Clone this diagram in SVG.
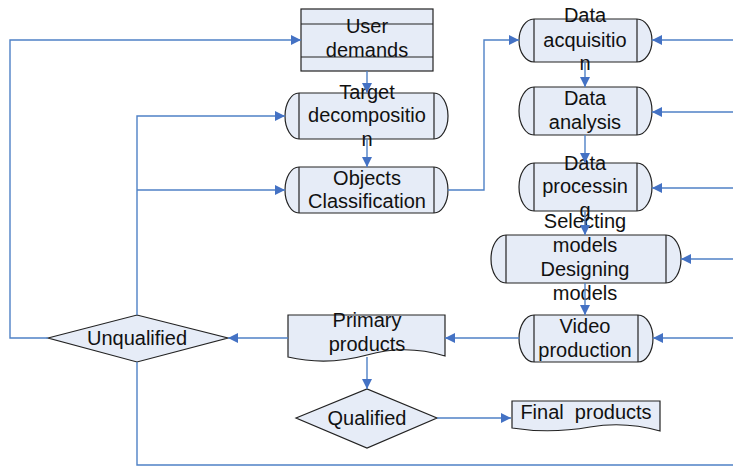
<svg xmlns="http://www.w3.org/2000/svg" width="733" height="466" viewBox="0 0 733 466">
<defs>
<style>
.n{fill:#E6ECF7;stroke:#222;stroke-width:1.2}
.l{fill:none;stroke:#222;stroke-width:1.2}
.c{fill:none;stroke:#4F81C6;stroke-width:1.4}
text{font-family:"Liberation Sans",Arial,sans-serif;font-size:20px;fill:#111;text-anchor:middle}
</style>
<marker id="a" viewBox="0 0 10 10" refX="10" refY="5" markerWidth="10" markerHeight="10" markerUnits="userSpaceOnUse" orient="auto">
<path d="M0,0 L10,5 L0,10 Z" fill="#4472C4"/>
</marker>
</defs>
<rect width="733" height="466" fill="#fff"/>

<g id="n-user">
<rect class="n" x="301" y="9" width="132" height="62"/>
<line class="l" x1="301" y1="24" x2="433" y2="24"/>
<line class="l" x1="301" y1="57" x2="433" y2="57"/>
<text x="367" y="33">User</text>
<text x="367" y="57">demands</text>
</g>

<g id="n-target">
<path class="n" d="M299,93 H434 A14,23 0 0 1 434,139 H299 A14,23 0 0 1 299,93 Z"/>
<line class="l" x1="299" y1="93" x2="299" y2="139"/>
<line class="l" x1="434" y1="93" x2="434" y2="139"/>
<text x="367" y="98.5">Target</text>
<text x="367" y="122">decompositio</text>
<text x="367" y="145.5">n</text>
</g>

<g id="n-objects">
<path class="n" d="M299,167 H434 A14,23 0 0 1 434,213 H299 A14,23 0 0 1 299,167 Z"/>
<line class="l" x1="299" y1="167" x2="299" y2="213"/>
<line class="l" x1="434" y1="167" x2="434" y2="213"/>
<text x="367" y="185">Objects</text>
<text x="367" y="208">Classification</text>
</g>

<g id="n-acq">
<path class="n" d="M534,19 H637 A15,21.5 0 0 1 637,62 H534 A15,21.5 0 0 1 534,19 Z"/>
<line class="l" x1="534" y1="19" x2="534" y2="62"/>
<line class="l" x1="637" y1="19" x2="637" y2="62"/>
<text x="585" y="22">Data</text>
<text x="585" y="46.5">acquisitio</text>
<text x="585" y="70">n</text>
</g>

<g id="n-analysis">
<path class="n" d="M534,87 H637 A15,24 0 0 1 637,135 H534 A15,24 0 0 1 534,87 Z"/>
<line class="l" x1="534" y1="87" x2="534" y2="135"/>
<line class="l" x1="637" y1="87" x2="637" y2="135"/>
<text x="585" y="105">Data</text>
<text x="585" y="128.5">analysis</text>
</g>

<g id="n-processing">
<path class="n" d="M534,163 H637 A15,24 0 0 1 637,211 H534 A15,24 0 0 1 534,163 Z"/>
<line class="l" x1="534" y1="163" x2="534" y2="211"/>
<line class="l" x1="637" y1="163" x2="637" y2="211"/>
<text x="585" y="169.5">Data</text>
<text x="585" y="193">processin</text>
<text x="585" y="216.5">g</text>
</g>

<g id="n-models">
<path class="n" d="M506,235 H666 A15,24 0 0 1 666,283 H506 A15,24 0 0 1 506,235 Z"/>
<line class="l" x1="506" y1="235" x2="506" y2="283"/>
<line class="l" x1="666" y1="235" x2="666" y2="283"/>
<text x="585" y="228">Selecting</text>
<text x="585" y="252">models</text>
<text x="585" y="276">Designing</text>
<text x="585" y="300">models</text>
</g>

<g id="n-video">
<path class="n" d="M534,315 H638 A15,23.5 0 0 1 638,362 H534 A15,23.5 0 0 1 534,315 Z"/>
<line class="l" x1="534" y1="315" x2="534" y2="362"/>
<line class="l" x1="638" y1="315" x2="638" y2="362"/>
<text x="585" y="333">Video</text>
<text x="585" y="356.5">production</text>
</g>

<g id="n-primary">
<path class="n" d="M288,315 H445 V356 Q406,344 367,355 Q327,366 288,357 Z"/>
<text x="367" y="327">Primary</text>
<text x="367" y="351">products</text>
</g>

<g id="n-unqualified">
<path class="n" d="M48,338 L137,315 L228,338 L137,362 Z"/>
<text x="137" y="345">Unqualified</text>
</g>

<g id="n-qualified">
<path class="n" d="M296,418 L367,389 L437,418 L367,448 Z"/>
<text x="367" y="425">Qualified</text>
</g>

<g id="n-final">
<path class="n" d="M512,401 H660 V431 Q625,421 590,427 Q550,434 512,428 Z"/>
<text x="586" y="419" xml:space="preserve">Final  products</text>
</g>

<g id="connectors">
<path class="c" marker-end="url(#a)" d="M367,71 V93"/>
<path class="c" marker-end="url(#a)" d="M367,139 V167"/>
<path class="c" marker-end="url(#a)" d="M448,190 H484 V40 H519"/>
<path class="c" marker-end="url(#a)" d="M585,62 V87"/>
<path class="c" marker-end="url(#a)" d="M585,135 V163"/>
<path class="c" marker-end="url(#a)" d="M585,211 V235"/>
<path class="c" marker-end="url(#a)" d="M585,283 V315"/>
<path class="c" marker-end="url(#a)" d="M733,40 H652"/>
<path class="c" marker-end="url(#a)" d="M733,112 H652"/>
<path class="c" marker-end="url(#a)" d="M733,188 H652"/>
<path class="c" marker-end="url(#a)" d="M733,259 H681"/>
<path class="c" marker-end="url(#a)" d="M733,338 H653"/>
<path class="c" marker-end="url(#a)" d="M519,338 H445"/>
<path class="c" marker-end="url(#a)" d="M288,338 H228"/>
<path class="c" marker-end="url(#a)" d="M367,357 V389"/>
<path class="c" marker-end="url(#a)" d="M437,418 H511"/>
<path class="c" marker-end="url(#a)" d="M48,338 H10 V40 H301"/>
<path class="c" marker-end="url(#a)" d="M137,315 V116 H285"/>
<path class="c" marker-end="url(#a)" d="M137,190 H285"/>
<path class="c" d="M137,362 V465 H733"/>
</g>
</svg>
